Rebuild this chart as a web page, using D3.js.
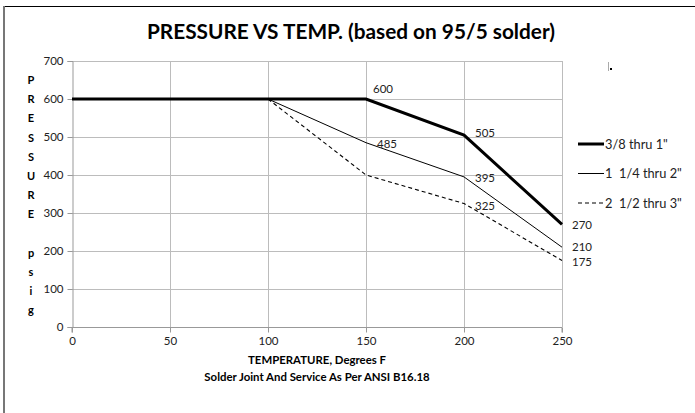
<!DOCTYPE html>
<html>
<head>
<meta charset="utf-8">
<script src="https://cdn.jsdelivr.net/npm/d3@7"></script>
<style>
  body { margin: 0; background: #fff; }
  svg { font-family: Lato, "Open Sans", sans-serif; }
  text { white-space: pre; }
</style>
</head>
<body>
<div id="chart"></div>
<script>
let width = 695;
let height = 413;

// temperatures (deg F)
let temps = [0, 100, 150, 200, 250];
// pressure (psig) per pipe size
let small = [600, 600, 600, 505, 270];
let medium = [600, 600, 485, 395, 210];
let large = [600, 600, 400, 325, 175];
let seriesNames = ["3/8 thru 1\"", "1  1/4 thru 2\"", "2  1/2 thru 3\""];
// which points carry a value label
let labelFrom = [2, 2, 3];

let yTicks = [0, 100, 200, 300, 400, 500, 600, 700];
let xTicks = [0, 50, 100, 150, 200, 250];
let yLetters = ["P", "R", "E", "S", "S", "U", "R", "E", "", "p", "s", "i", "g"];

let series = [small, medium, large].map((vals, i) => ({
    name: seriesNames[i],
    points: temps.map((t, j) => ({t: t, p: vals[j], idx: j})),
    labelFrom: labelFrom[i]
}));
let styles = [
    {w: 3, dash: null},
    {w: 1, dash: null},
    {w: 1.1, dash: "4,3"}
];

let x = d3.scaleLinear().domain([0, 250]).range([72, 562]);
let y = d3.scaleLinear().domain([0, 700]).range([327, 61]);

let svg = d3.select("#chart").append("svg")
    .attr("width", width)
    .attr("height", height);

// outer frame
svg.append("line").attr("x1", 4).attr("x2", width).attr("y1", 6.5).attr("y2", 6.5)
    .attr("stroke", "#000").attr("stroke-width", 1);
svg.append("line").attr("x1", 4).attr("x2", 4).attr("y1", 6).attr("y2", height)
    .attr("stroke", "#777").attr("stroke-width", 2);

svg.append("text")
    .attr("x", 351).attr("y", 39)
    .attr("text-anchor", "middle")
    .attr("font-size", 20.8).attr("font-weight", "bold")
    .text("PRESSURE VS TEMP. (based on 95/5 solder)");

// grid
svg.append("g")
    .selectAll("line")
    .data(yTicks.slice(1))
    .join("line")
    .attr("x1", x(0)).attr("x2", x(250))
    .attr("y1", d => Math.round(y(d)) + 0.5).attr("y2", d => Math.round(y(d)) + 0.5)
    .attr("stroke", "#bcbcbc");
svg.append("g")
    .selectAll("line")
    .data(xTicks.slice(1))
    .join("line")
    .attr("x1", d => Math.round(x(d)) + 0.5).attr("x2", d => Math.round(x(d)) + 0.5)
    .attr("y1", y(0)).attr("y2", y(700))
    .attr("stroke", "#bcbcbc");

// axes
let yAxis = svg.append("g")
    .attr("transform", `translate(${Math.round(x(0)) + 0.5},0)`)
    .call(d3.axisLeft(y).tickValues(yTicks).tickSize(5).tickPadding(4));
let xAxis = svg.append("g")
    .attr("transform", `translate(0,${Math.round(y(0)) + 0.5})`)
    .call(d3.axisBottom(x).tickValues(xTicks).tickSize(5).tickPadding(4));
[yAxis, xAxis].forEach(g => {
    g.select(".domain").attr("stroke", "#999");
    g.selectAll(".tick line").attr("stroke", "#999");
    g.selectAll(".tick text").attr("font-size", 11.5).attr("fill", "#222")
        .attr("font-family", "Lato, 'Open Sans', sans-serif");
});
xAxis.select(".domain").attr("d", `M${x(0)},5V0H${x(250)}V5`);

// y title, stacked letters
svg.append("g")
    .selectAll("text")
    .data(yLetters)
    .join("text")
    .attr("x", 31).attr("y", (d, i) => 84 + i * 19.2)
    .attr("text-anchor", "middle")
    .attr("font-size", 11).attr("font-weight", "bold")
    .text(d => d);

// x title
svg.append("text").attr("x", 317).attr("y", 364).attr("text-anchor", "middle")
    .attr("font-size", 11.4).attr("font-weight", "bold")
    .text("TEMPERATURE, Degrees F");
svg.append("text").attr("x", 317).attr("y", 381).attr("text-anchor", "middle")
    .attr("font-size", 11.4).attr("font-weight", "bold")
    .text("Solder Joint And Service As Per ANSI B16.18");

// lines
let line = d3.line().x(d => x(d.t)).y(d => y(d.p));
series.forEach((s, i) => {
    svg.append("path")
        .datum(s.points)
        .attr("d", line)
        .attr("fill", "none")
        .attr("stroke", "#000")
        .attr("stroke-width", styles[i].w)
        .attr("stroke-dasharray", styles[i].dash);
});

// value labels (series-point: dx, dy)
let labelOffsets = {
    "0-2": [7, -6], "0-3": [11, 2], "0-4": [10, 5],
    "1-2": [11, 5], "1-3": [11, 5.5], "1-4": [10, 4],
    "2-3": [11, 6], "2-4": [10, 5.5]
};
series.forEach((s, i) => {
    svg.append("g")
        .selectAll("text")
        .data(s.points.filter(p => p.idx >= s.labelFrom))
        .join("text")
        .attr("x", d => x(d.t) + labelOffsets[i + "-" + d.idx][0])
        .attr("y", d => y(d.p) + labelOffsets[i + "-" + d.idx][1])
        .attr("font-size", 11.5)
        .attr("fill", "#222")
        .text(d => d.p);
});

// legend
let legend = svg.append("g")
    .selectAll("g")
    .data(series)
    .join("g")
    .attr("transform", (d, i) => `translate(578,${144 + i * 29.5})`);
legend.append("line")
    .attr("x1", 0).attr("x2", 26)
    .attr("stroke", "#000")
    .attr("stroke-width", (d, i) => styles[i].w)
    .attr("stroke-dasharray", (d, i) => styles[i].dash);
legend.append("text")
    .attr("x", 27).attr("y", 4.5)
    .attr("font-size", 12.8)
    .attr("fill", "#222")
    .text(d => d.name);

// stray mark near top right
svg.append("line").attr("x1", 608.5).attr("x2", 608.5).attr("y1", 62).attr("y2", 71)
    .attr("stroke", "#aaa");
svg.append("rect").attr("x", 610).attr("y", 68).attr("width", 2).attr("height", 2).attr("fill", "#000");
</script>
</body>
</html>
